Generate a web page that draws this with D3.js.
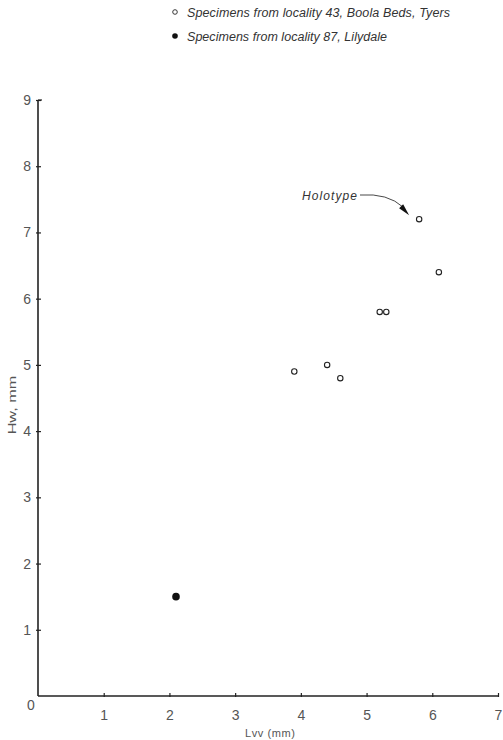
<!DOCTYPE html>
<html><head><meta charset="utf-8">
<script src="https://cdn.jsdelivr.net/npm/d3@7"></script>
<style>body{margin:0;background:#fff}svg{display:block}</style>
</head><body>
<script>
const openX = [3.9, 4.4, 4.6, 5.2, 5.3, 5.8, 6.1];
const openY = [4.9, 5.0, 4.8, 5.8, 5.8, 7.2, 6.4];
const filledX = [2.1];
const filledY = [1.5];
const xTicks = [1, 2, 3, 4, 5, 6, 7];
const yTicks = [1, 2, 3, 4, 5, 6, 7, 8, 9];
const legendLabels = ["Specimens from locality 43, Boola Beds, Tyers", "Specimens from locality 87, Lilydale"];

const W = 503, H = 740;
const svg = d3.select("body").append("svg").attr("width", W).attr("height", H);
const x = d3.scaleLinear().domain([0, 7]).range([38, 498]);
const y = d3.scaleLinear().domain([0, 9]).range([696, 100]);
const font = "Liberation Sans, Arial, sans-serif";
const ink = "#333";
const light = "#555";

// axes lines
svg.append("line").attr("x1", x(0)).attr("x2", x(7)).attr("y1", y(0)).attr("y2", y(0)).attr("stroke", "#222").attr("stroke-width", 1.6);
svg.append("line").attr("x1", x(0)).attr("x2", x(0)).attr("y1", y(0)).attr("y2", y(9)).attr("stroke", "#222").attr("stroke-width", 1.6);
svg.append("line").attr("x1", x(0)).attr("x2", x(0) + 4).attr("y1", y(9)).attr("y2", y(9)).attr("stroke", "#222").attr("stroke-width", 1.2);

const xa = svg.append("g").attr("transform", `translate(0,${y(0)})`)
  .call(d3.axisBottom(x).tickValues(xTicks).tickSize(0).tickPadding(14).tickFormat(d3.format("d")));
xa.select(".domain").remove();
xa.selectAll(".tick").append("line").attr("y1", -3).attr("y2", 1).attr("stroke", "#222").attr("stroke-width", 1.2);
xa.selectAll("text").attr("font-family", font).attr("font-size", 14).attr("fill", light);

const ya = svg.append("g").attr("transform", `translate(${x(0)},0)`)
  .call(d3.axisLeft(y).tickValues(yTicks).tickSize(0).tickPadding(7).tickFormat(d3.format("d")));
ya.select(".domain").remove();
ya.selectAll(".tick").append("line").attr("x1", -2).attr("x2", 3).attr("stroke", "#222").attr("stroke-width", 1.2);
ya.selectAll("text").attr("font-family", font).attr("font-size", 14).attr("fill", light);

// origin label
svg.append("text").attr("x", 31).attr("y", 710).attr("text-anchor", "middle")
  .attr("font-family", font).attr("font-size", 14).attr("fill", light).text("0");

// axis titles
svg.append("text").attr("x", 270).attr("y", 737).attr("text-anchor", "middle")
  .attr("font-family", font).attr("font-size", 11).attr("fill", light)
  .attr("textLength", 50).attr("lengthAdjust", "spacing").text("Lvv (mm)");
svg.append("text").attr("transform", "translate(16,405) rotate(-90) scale(1.55,1)").attr("text-anchor", "middle")
  .attr("font-family", font).attr("font-size", 10.5).attr("fill", light).text("Hw, mm");

// points
const openData = openX.map((v, i) => ({x: v, y: openY[i]}));
svg.selectAll("circle.open").data(openData).join("circle").attr("class", "open")
  .attr("cx", d => x(d.x)).attr("cy", d => y(d.y)).attr("r", 2.7)
  .attr("fill", "#fff").attr("stroke", "#222").attr("stroke-width", 1.1);
const filledData = filledX.map((v, i) => ({x: v, y: filledY[i]}));
svg.selectAll("circle.filled").data(filledData).join("circle").attr("class", "filled")
  .attr("cx", d => x(d.x)).attr("cy", d => y(d.y)).attr("r", 3.8).attr("fill", "#111");

// holotype annotation
const hx = x(5.8), hy = y(7.2);
svg.append("text").attr("x", 302).attr("y", 200).attr("font-family", font).attr("font-style", "italic")
  .attr("font-size", 12).attr("fill", ink).attr("textLength", 55).attr("lengthAdjust", "spacing").text("Holotype");
svg.append("path").attr("d", `M360,195 Q388,193 ${hx-16},${hy-12}`).attr("fill", "none").attr("stroke", "#333").attr("stroke-width", 0.9);
svg.append("path").attr("d", `M${hx-10},${hy-4} L${hx-20},${hy-11} L${hx-16},${hy-15} Z`).attr("fill", "#111");

// legend
const leg = svg.append("g");
legendLabels.forEach((t, i) => {
  const ly = 12 + i * 24;
  leg.append("circle").attr("cx", 175).attr("cy", ly).attr("r", i === 0 ? 2.3 : 2.8)
    .attr("fill", i === 0 ? "#fff" : "#111").attr("stroke", "#222").attr("stroke-width", i === 0 ? 0.9 : 0);
  leg.append("text").attr("x", 187).attr("y", ly + 5).attr("font-family", font).attr("font-style", "italic")
    .attr("font-size", 12.5).attr("fill", ink).attr("textLength", i === 0 ? 263 : 200).attr("lengthAdjust", "spacing").text(t);
});
</script>
</body></html>
